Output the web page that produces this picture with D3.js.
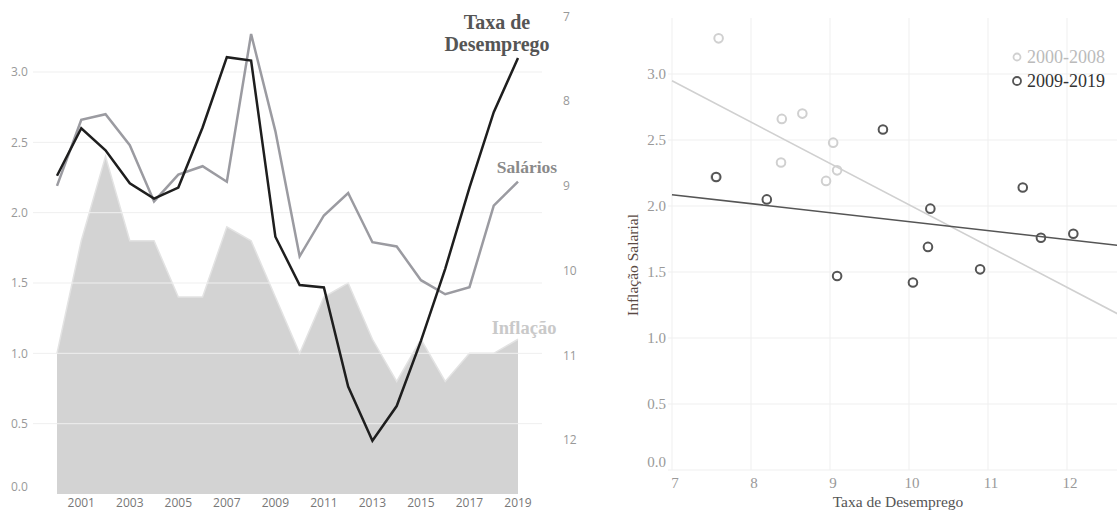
<!DOCTYPE html>
<html>
<head>
<meta charset="utf-8">
<script src="https://d3js.org/d3.v7.min.js"></script>
<style>
  body { margin: 0; background: #fff; }
  svg { display: block; }
</style>
</head>
<body>
<svg id="chart" width="1117" height="510"></svg>
<script>
// data
const years = [2000, 2001, 2002, 2003, 2004, 2005, 2006, 2007, 2008, 2009,
  2010, 2011, 2012, 2013, 2014, 2015, 2016, 2017, 2018, 2019]
const inflacao = [1.0, 1.8, 2.4, 1.8, 1.8, 1.4, 1.4, 1.9, 1.8, 1.4,
  1.0, 1.4, 1.5, 1.1, 0.8, 1.1, 0.8, 1.0, 1.0, 1.1]
const salarios = [2.19, 2.66, 2.70, 2.48, 2.08, 2.27, 2.33, 2.22, 3.27, 2.58,
  1.69, 1.98, 2.14, 1.79, 1.76, 1.52, 1.42, 1.47, 2.05, 2.22]
const desemprego = [8.95, 8.39, 8.65, 9.04, 9.22, 9.09, 8.38, 7.55, 7.59, 9.67,
  10.24, 10.27, 11.44, 12.08, 11.67, 10.90, 10.05, 9.09, 8.20, 7.56]
const yearTicks = [2001, 2003, 2005, 2007, 2009, 2011, 2013, 2015, 2017, 2019]
const leftTicks = [0, 0.5, 1, 1.5, 2, 2.5, 3]
const rightTicks = [7, 8, 9, 10, 11, 12]
const scatterXTicks = [7, 8, 9, 10, 11, 12]
const scatterYTicks = [0, 0.5, 1, 1.5, 2, 2.5, 3]
const periods = ['2000-2008', '2009-2019']
const hiddenPoints = [2004]

const svg = d3.select('#chart')
const sans = '"Open Sans", sans-serif'
const serif = '"Liberation Serif", serif'

// ---------- left chart ----------
let x = d3.scaleLinear().domain([2000, 2019]).range([57, 518])
let y = d3.scaleLinear().domain([0, 3]).range([494, 72])
let yR = d3.scaleLinear().domain([7, 12]).range([10.6, 434])
let rows = years.map((yr, i) => ({ year: yr, inf: inflacao[i], sal: salarios[i], des: desemprego[i] }))

let left = svg.append('g')

left.append('path').datum(rows)
  .attr('d', d3.area().x(d => x(d.year)).y0(y(0)).y1(d => y(d.inf)))
  .attr('fill', '#d3d3d3')
left.append('path').datum(rows)
  .attr('d', d3.line().x(d => x(d.year)).y(d => y(d.inf)))
  .attr('fill', 'none').attr('stroke', '#e3e3e3').attr('stroke-width', 1.5)

// gridlines on top of the area
left.append('g').selectAll('line').data(leftTicks.filter(d => d > 0)).enter().append('line')
  .attr('x1', 33).attr('x2', 542)
  .attr('y1', d => y(d)).attr('y2', d => y(d))
  .attr('stroke', '#efefef').attr('stroke-width', 1)

left.append('g').selectAll('text').data(leftTicks).enter().append('text')
  .attr('x', 11).attr('y', d => y(d) + (d === 0 ? -7 : 0)).attr('dy', '0.35em')
  .text(d => d.toFixed(1))
  .style('font', '12px ' + sans).attr('fill', '#999')

left.append('g').selectAll('text').data(rightTicks).enter().append('text')
  .attr('x', 563).attr('y', d => yR(d) + 6).attr('dy', '0.35em')
  .text(d => d)
  .style('font', '12px ' + sans).attr('fill', '#999')

left.append('g').selectAll('text').data(yearTicks).enter().append('text')
  .attr('x', d => x(d)).attr('y', 507).attr('text-anchor', 'middle')
  .text(d => d)
  .style('font', '12px ' + sans).attr('fill', '#777')

left.append('path').datum(rows)
  .attr('d', d3.line().x(d => x(d.year)).y(d => y(d.sal)))
  .attr('fill', 'none').attr('stroke', '#9b9ba1').attr('stroke-width', 2.5)
left.append('path').datum(rows)
  .attr('d', d3.line().x(d => x(d.year)).y(d => yR(d.des)))
  .attr('fill', 'none').attr('stroke', '#1e1e1e').attr('stroke-width', 2.5)

// labels
left.append('text').attr('x', 497).attr('y', 29).attr('text-anchor', 'middle')
  .text('Taxa de').style('font', 'bold 20px ' + serif).attr('fill', '#555')
left.append('text').attr('x', 497).attr('y', 51).attr('text-anchor', 'middle')
  .text('Desemprego').style('font', 'bold 20px ' + serif).attr('fill', '#555')
left.append('text').attr('x', 527).attr('y', 173).attr('text-anchor', 'middle')
  .text('Salários').style('font', 'bold 17.5px ' + serif).attr('fill', '#8a8a8a')
left.append('text').attr('x', 524).attr('y', 334).attr('text-anchor', 'middle')
  .text('Inflação').style('font', 'bold 18.5px ' + serif).attr('fill', '#c9c9c9')

// ---------- right chart ----------
let sx = d3.scaleLinear().domain([7, 13]).range([672, 1146])
let sy = d3.scaleLinear().domain([0, 3]).range([470, 74])
let right = svg.append('g')

right.append('g').selectAll('line').data(scatterXTicks).enter().append('line')
  .attr('x1', d => sx(d)).attr('x2', d => sx(d)).attr('y1', 18).attr('y2', 470)
  .attr('stroke', '#efefef')
right.append('g').selectAll('line').data(scatterYTicks).enter().append('line')
  .attr('x1', 668).attr('x2', 1117).attr('y1', d => sy(d)).attr('y2', d => sy(d))
  .attr('stroke', '#efefef')

right.append('g').selectAll('text').data(scatterYTicks).enter().append('text')
  .attr('x', 666).attr('y', d => sy(d) + (d === 0 ? -8 : 0)).attr('dy', '0.35em')
  .attr('text-anchor', 'end').text(d => d.toFixed(1))
  .style('font', '15px ' + serif).attr('fill', '#999')
right.append('g').selectAll('text').data(scatterXTicks).enter().append('text')
  .attr('x', d => sx(d) + 3).attr('y', 488).attr('text-anchor', 'middle')
  .text(d => d)
  .style('font', '15px ' + serif).attr('fill', '#999')

right.append('text').attr('x', 898).attr('y', 507).attr('text-anchor', 'middle')
  .text('Taxa de Desemprego').style('font', '15.5px ' + serif).attr('fill', '#555')
right.append('text').attr('transform', 'translate(638,265) rotate(-90)').attr('text-anchor', 'middle')
  .text('Inflação Salarial').style('font', '15.5px ' + serif).attr('fill', '#5a4a44')

// ols fit per period
let groups = [
  { name: periods[0], color: '#d0d0d0', pts: rows.filter(d => d.year <= 2008) },
  { name: periods[1], color: '#555', pts: rows.filter(d => d.year >= 2009) }
]
groups.forEach(g => {
  let mx = d3.mean(g.pts, d => d.des)
  let my = d3.mean(g.pts, d => d.sal)
  let b = d3.sum(g.pts, d => (d.des - mx) * (d.sal - my)) / d3.sum(g.pts, d => (d.des - mx) ** 2)
  let a = my - b * mx
  right.append('line')
    .attr('x1', sx(7)).attr('y1', sy(a + b * 7))
    .attr('x2', sx(13)).attr('y2', sy(a + b * 13))
    .attr('stroke', g.color).attr('stroke-width', 1.6)
})
groups.forEach(g => {
  right.append('g').selectAll('circle').data(g.pts.filter(d => !hiddenPoints.includes(d.year)))
    .enter().append('circle')
    .attr('cx', d => sx(d.des)).attr('cy', d => sy(d.sal)).attr('r', 4.3)
    .attr('fill', 'none').attr('stroke', g.color).attr('stroke-width', 2)
})

// legend
let legend = right.append('g')
groups.forEach((g, i) => {
  legend.append('circle').attr('cx', 1017).attr('cy', 57 + i * 24).attr('r', i === 0 ? 3.5 : 4)
    .attr('fill', 'none').attr('stroke', g.color).attr('stroke-width', 1.8)
  legend.append('text').attr('x', 1027).attr('y', 57 + i * 24).attr('dy', '0.35em')
    .text(g.name).style('font', '18px ' + serif).attr('fill', i === 0 ? '#bbb' : '#333')
})
</script>
</body>
</html>
